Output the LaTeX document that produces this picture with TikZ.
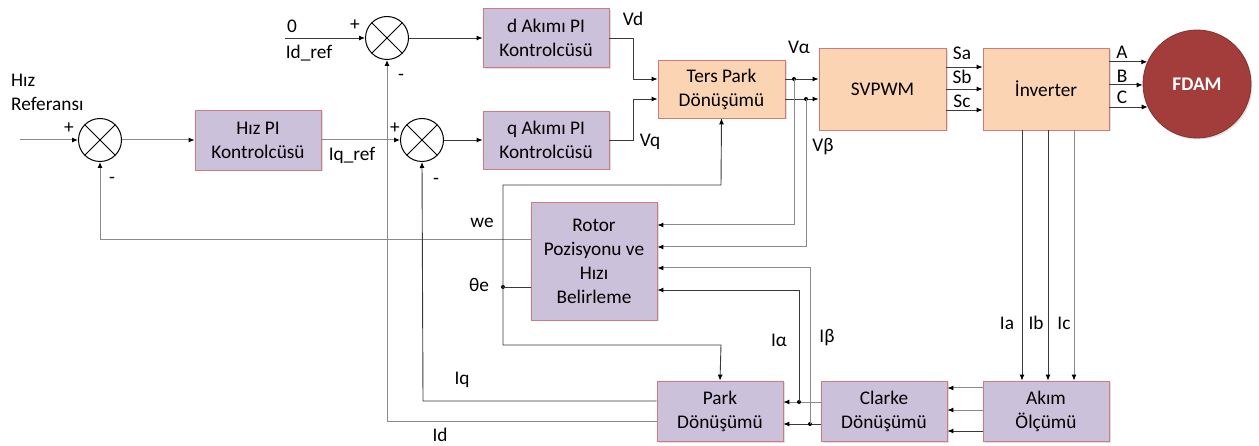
\documentclass[tikz,border=0pt]{standalone}
\usepackage{fontspec}
\setmainfont{Carlito}
\usetikzlibrary{arrows.meta,calc,shadows}
\definecolor{purp}{HTML}{CCC1DA}
\definecolor{orng}{HTML}{FBD4B4}
\definecolor{bord}{HTML}{D07B7B}
\definecolor{dred}{HTML}{A33D3B}
\definecolor{lnd}{HTML}{3A3A3A}
\definecolor{lng}{HTML}{8A8A8A}
\newcommand{\fs}{\fontsize{19.3}{24}\selectfont}
\begin{document}
\begin{tikzpicture}[x=1pt,y=-1pt,
  box/.style={draw=bord, line width=0.8pt, minimum width=126pt, minimum height=60pt, align=center, font=\fs, inner sep=0pt,
    drop shadow={opacity=0.25, shadow xshift=1.5pt, shadow yshift=-1.5pt}},
  pbox/.style={box, fill=purp},
  obox/.style={box, fill=orng},
  sum/.style={circle, draw=black, line width=1pt, minimum size=43pt, inner sep=0pt,
    path picture={\draw[line width=1pt] (path picture bounding box.north west)--(path picture bounding box.south east)
      (path picture bounding box.north east)--(path picture bounding box.south west);}},
  ln/.style={draw=lnd, line width=0.9pt},
  lg/.style={draw=lng, line width=1pt},
  arr/.style={-{Latex[length=6pt,width=5pt,color=black]}},
  dot/.style={circle, fill=black, inner sep=0pt, minimum size=4pt},
  lab/.style={font=\fs, inner sep=0pt}]
\useasboundingbox (0,0) rectangle (1259,446);

% blocks
\node[pbox, minimum height=60pt] (hpi) at (258,140) {Hız PI\\Kontrolcüsü};
\node[pbox, minimum height=59pt] (dpi) at (546,38) {d Akımı PI\\Kontrolcüsü};
\node[pbox, minimum height=58pt] (qpi) at (546,140) {q Akımı PI\\Kontrolcüsü};
\node[obox, minimum width=127pt, minimum height=58pt] (tp) at (721.5,89) {Ters Park\\Dönüşümü};
\node[obox, minimum width=127pt, minimum height=82pt] (sv) at (882.5,89) {SVPWM};
\node[obox, minimum height=82pt] (inv) at (1046,89) {İnverter};
\node[circle, fill=dred, draw=dred!80!black, line width=0.8pt, minimum size=108pt, inner sep=0pt,
  font=\fs\bfseries, text=white,
  drop shadow={opacity=0.25, shadow xshift=1.5pt, shadow yshift=-1.5pt}] (fdam) at (1197,84) {FDAM};
\node[pbox, minimum height=118pt] (rot) at (594,261) {Rotor\\Pozisyonu ve\\Hızı\\Belirleme};
\node[pbox] (park) at (720,411) {Park\\Dönüşümü};
\node[pbox] (clk) at (884,411) {Clarke\\Dönüşümü};
\node[pbox] (akim) at (1046,411) {Akım\\Ölçümü};

% summing junctions
\node[sum] (s1) at (100,140) {};
\node[sum] (s2) at (387,38) {};
\node[sum] (s3) at (422,140) {};

% forward path
\coordinate (in) at (20,140);
\coordinate (zero) at (285,38);
\draw[lg,arr] (in) -- (s1.west);
\draw[lg,arr] (s1.east) -- (hpi.west);
\draw[lg,arr] (hpi.east) -- (s3.west);
\draw[ln,arr] (zero) -- (s2.west);
\draw[ln,arr] (s2.east) -- (dpi.west);
\draw[ln,arr] (s3.east) -- (qpi.west);
\draw[ln,arr] (dpi.east) -- (633,38) |- (tp.west |- 0,79);
\draw[ln,arr] (qpi.east) -- (633,140) |- (tp.west |- 0,99);
\draw[ln,arr] (tp.east |- 0,79) -- (sv.west |- 0,79);
\draw[ln,arr] (tp.east |- 0,99) -- (sv.west |- 0,99);
\node[dot] (da) at (794,79) {};
\node[dot] (db) at (806,99) {};
\draw[lg,arr] (da.center) -- (794,225) -- (rot.east |- 0,225);
\draw[lg,arr] (db.center) -- (806,247) -- (rot.east |- 0,247);

% SVPWM -> inverter -> motor
\draw[ln,arr] (sv.east |- 0,67) -- (inv.west |- 0,67);
\draw[ln,arr] (sv.east |- 0,89) -- (inv.west |- 0,89);
\draw[ln,arr] (sv.east |- 0,110) -- (inv.west |- 0,110);
\draw[ln,arr] (inv.east |- fdam.156) -- (fdam.156);
\draw[ln,arr] (inv.east |- fdam.181) -- (fdam.181);
\draw[ln,arr] (inv.east |- fdam.205) -- (fdam.205);

% current measurement
\draw[ln,arr] (inv.south -| 1022,0) -- (akim.north -| 1022,0);
\draw[ln,arr] (inv.south -| 1048,0) -- (akim.north -| 1048,0);
\draw[lg,arr] (inv.south -| 1074,0) -- (akim.north -| 1074,0);
\draw[lg,arr] (akim.west |- 0,388) -- (clk.east |- 0,388);
\draw[lg,arr] (akim.west |- 0,410) -- (clk.east |- 0,410);
\draw[ln,arr] (akim.west |- 0,431) -- (clk.east |- 0,431);
\draw[lg,arr] (clk.west |- 0,402) -- (park.east |- 0,402);
\draw[ln,arr] (clk.west |- 0,424) -- (park.east |- 0,424);
\node[dot] (dal) at (799,402) {};
\node[dot] (dbe) at (810,424) {};
\draw[ln,arr] (dal.center) -- (799,290) -- (rot.east |- 0,290);
\draw[lg,arr] (dbe.center) -- (810,268) -- (rot.east |- 0,268);

% feedback
\draw[lg,arr] (rot.west |- 0,240) -- (100,240) -- (s1.south);
\node[dot] (dth) at (503,287) {};
\draw[ln] (rot.west |- 0,287) -- (dth.center);
\draw[ln,arr] (dth.center) -- (503,185) -- (721,185) -- (tp.south);
\draw[ln,arr] (dth.center) -- (503,345) -- (721,345) -- (park.north);
\draw[ln,arr] (park.west |- 0,401) -- (423,401) -- (s3.south);
\draw[lg,arr] (park.west |- 0,421) -- (387,421) -- (s2.south);

% labels
\node[lab, anchor=west, align=left] (lref) at (11,92) {Hız\\Referansı};
\node[lab] (p1) at (69,128) {+};
\node[lab] (m1) at (112,180) {-};
\node[lab] (p2) at (355,25) {+};
\node[lab] (m2) at (401,77) {-};
\node[lab] (p3) at (395,128) {+};
\node[lab] (m3) at (436,181) {-};
\node[lab] (l0) at (292,26) {0};
\node[lab] (lidr) at (309,53) {Id\_ref};
\node[lab] (liqr) at (352,155) {Iq\_ref};
\node[lab] (lvd) at (633,19) {Vd};
\node[lab] (lvq) at (650,142) {Vq};
\node[lab] (lva) at (799,47) {Vα};
\node[lab] (lvb) at (823,147) {Vβ};
\node[lab] (lsa) at (962,53) {Sa};
\node[lab] (lsb) at (962,77) {Sb};
\node[lab] (lsc) at (962,101) {Sc};
\node[lab] (la) at (1122,52) {A};
\node[lab] (lb) at (1122,76) {B};
\node[lab] (lc) at (1122,97) {C};
\node[lab] (lwe) at (482,223) {we};
\node[lab] (lth) at (479,285) {θe};
\node[lab] (liq) at (462,380) {Iq};
\node[lab] (lid) at (440,435) {Id};
\node[lab] (lial) at (779,340) {Iα};
\node[lab] (libe) at (827,338) {Iβ};
\node[lab] (lia) at (1007,323) {Ia};
\node[lab] (lib) at (1036,323) {Ib};
\node[lab] (lic) at (1064,323) {Ic};
\end{tikzpicture}
\end{document}
